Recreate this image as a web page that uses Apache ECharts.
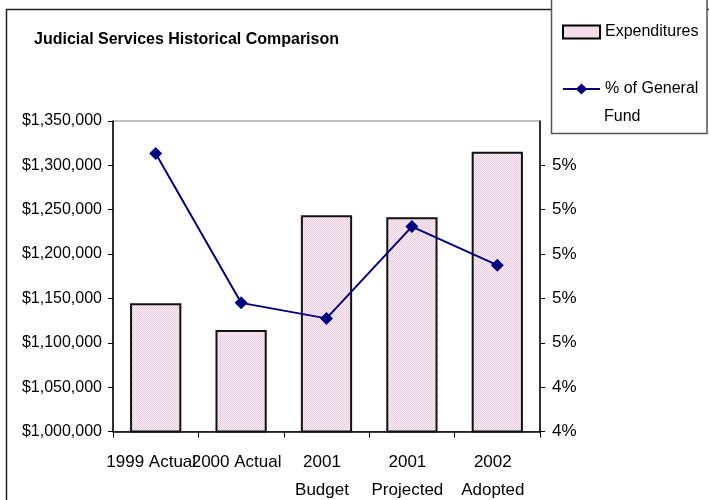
<!DOCTYPE html>
<html>
<head>
<meta charset="utf-8">
<script src="https://cdn.jsdelivr.net/npm/echarts@6/dist/echarts.min.js"></script>
<style>
    html, body { margin: 0; padding: 0; background: #fff; }
    #container { width: 709px; height: 500px; }
</style>
</head>
<body>
<div id="container"></div>
<script>
// 数据
const categories = ['1999 Actual', '2000 Actual', '2001\nBudget', '2001\nProjected', '2002\nAdopted']
const expenditures = [1144500, 1114400, 1243700, 1241400, 1315400]
const pctGeneralFund = [4.927, 4.59, 4.555, 4.762, 4.675]

const fontFamily = '"Liberation Sans", Arial, sans-serif'

// 柱子的粉色网点填充
const makePattern = () => {
    const c = document.createElement('canvas')
    c.width = 2
    c.height = 2
    const ctx = c.getContext('2d')
    ctx.fillStyle = '#fbf3f7'
    ctx.fillRect(0, 0, 2, 2)
    ctx.fillStyle = '#ecc8da'
    ctx.fillRect(0, 0, 1, 1)
    ctx.fillRect(1, 1, 1, 1)
    return c
}
const barFill = { image: makePattern(), repeat: 'repeat' }

const chartDom = document.getElementById('container')
const myChart = echarts.init(chartDom)

const option = {
    animation: false,
    backgroundColor: '#fff',
    title: {
        text: 'Judicial Services Historical Comparison',
        left: 29,
        top: 27,
        textStyle: {
            fontFamily: fontFamily,
            fontSize: 16,
            fontWeight: 'bold',
            color: '#000',
        },
    },
    // 外框和图例框
    graphic: [
        {
            type: 'rect',
            z: 1,
            shape: { x: 6.5, y: 9.5, width: 800, height: 600 },
            style: { fill: null, stroke: '#222', lineWidth: 1.5 },
        },
        {
            type: 'rect',
            z: 3,
            shape: { x: 551.5, y: -2, width: 155.5, height: 135.5 },
            style: { fill: '#fff', stroke: '#555', lineWidth: 1.5 },
        },
        {
            type: 'text',
            z: 5,
            left: 604,
            top: 109,
            style: {
                text: 'Fund',
                fontFamily: fontFamily,
                fontSize: 16,
                fill: '#000',
            },
        },
    ],
    legend: [
        {
            data: [{ name: 'Expenditures', icon: 'rect' }],
            left: 562,
            top: 24,
            padding: 0,
            itemWidth: 37,
            itemHeight: 13,
            itemStyle: { borderColor: '#000', borderWidth: 2 },
            textStyle: { fontFamily: fontFamily, fontSize: 16, color: '#000' },
        },
        {
            data: ['% of General Fund'],
            left: 562,
            top: 81,
            padding: 0,
            itemWidth: 37,
            itemHeight: 14,
            formatter: () => '% of General',
            textStyle: { fontFamily: fontFamily, fontSize: 16, color: '#000' },
        },
    ],
    grid: {
        left: 113,
        right: 169,
        top: 121,
        bottom: 68.5,
        outerBoundsMode: 'none',
        show: true,
        borderColor: '#808080',
        borderWidth: 1,
    },
    xAxis: {
        type: 'category',
        data: categories,
        axisLine: { lineStyle: { color: '#000', width: 1.5 } },
        axisTick: { show: true, length: 6, lineStyle: { color: '#000' } },
        axisLabel: {
            color: '#000',
            fontFamily: fontFamily,
            fontSize: 17,
            lineHeight: 28,
            margin: 17,
            interval: 0,
            padding: [0, 9, 0, 0],
        },
    },
    yAxis: [
        {
            type: 'value',
            min: 1000000,
            max: 1350000,
            interval: 50000,
            splitLine: { show: false },
            axisLine: { show: true, lineStyle: { color: '#000', width: 1.5 } },
            axisTick: { show: true, length: 5, lineStyle: { color: '#000' } },
            axisLabel: {
                color: '#000',
                fontFamily: fontFamily,
                fontSize: 16,
                margin: 11,
                formatter: (v) => '$' + v.toLocaleString('en-US'),
            },
        },
        {
            type: 'value',
            min: 4.3,
            max: 5.0,
            interval: 0.1,
            splitLine: { show: false },
            axisLine: { show: true, lineStyle: { color: '#000', width: 1.5 } },
            axisTick: { show: true, length: 5, lineStyle: { color: '#000' } },
            axisLabel: {
                color: '#000',
                fontFamily: fontFamily,
                fontSize: 17,
                margin: 12,
                showMaxLabel: false,
                formatter: (v) => Math.round(v + 1e-6) + '%',
            },
        },
    ],
    series: [
        {
            name: 'Expenditures',
            type: 'bar',
            yAxisIndex: 0,
            barWidth: '60%',
            itemStyle: {
                color: barFill,
                borderColor: '#111',
                borderWidth: 2,
            },
            data: expenditures,
        },
        {
            name: '% of General Fund',
            type: 'line',
            yAxisIndex: 1,
            symbol: 'diamond',
            symbolSize: 13,
            lineStyle: { color: '#000080', width: 2 },
            itemStyle: { color: '#000080' },
            data: pctGeneralFund,
        },
    ],
}

option && myChart.setOption(option)
</script>
</body>
</html>
